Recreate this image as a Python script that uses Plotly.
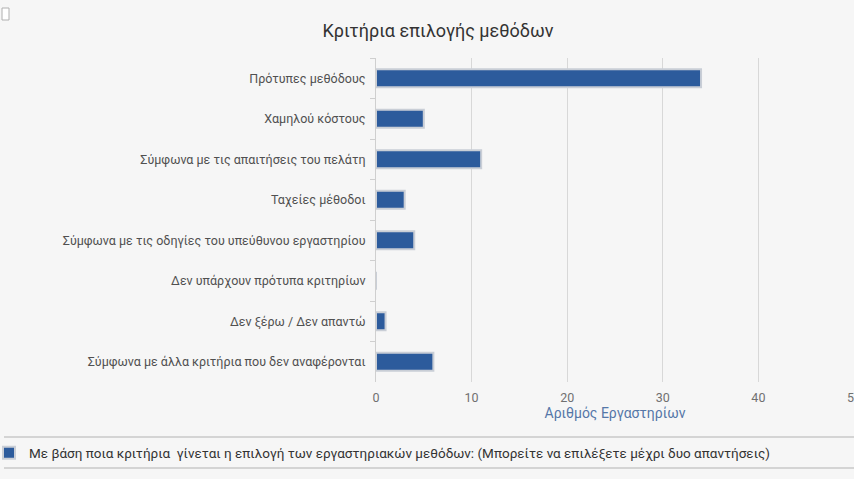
import plotly.graph_objects as go

# Survey data: selection criteria for laboratory methods
categories = [
    "Πρότυπες μεθόδους",
    "Χαμηλού κόστους",
    "Σύμφωνα με τις απαιτήσεις του πελάτη",
    "Ταχείες μέθοδοι",
    "Σύμφωνα με τις οδηγίες του υπεύθυνου εργαστηρίου",
    "Δεν υπάρχουν πρότυπα κριτηρίων",
    "Δεν ξέρω / Δεν απαντώ",
    "Σύμφωνα με άλλα κριτήρια που δεν αναφέρονται",
]
counts = [34, 5, 11, 3, 4, 0, 1, 6]
series_name = ("Με βάση ποια κριτήρια  γίνεται η επιλογή των εργαστηριακών μεθόδων: "
               "(Μπορείτε να επιλέξετε μέχρι δυο απαντήσεις)")
x_ticks = [0, 10, 20, 30, 40, 50]

W, H = 854, 479
ML, MR, MT, MB = 376, 0, 58, 97
BG = "#f6f6f6"
BAR = "#2c5b9c"
FONT = "Roboto, Liberation Sans, Arial, sans-serif"

fig = go.Figure()
fig.add_trace(go.Bar(
    x=counts,
    y=categories,
    orientation="h",
    name=series_name,
    marker=dict(color=BAR, line=dict(color="#c9ced6", width=2)),
    showlegend=True,
))

def px_x(p):
    return (p - ML) / (W - ML - MR)

def px_y(p):
    return (H - MB - p) / (H - MT - MB)

shapes = [
    # legend frame lines
    dict(type="line", xref="paper", yref="paper",
         x0=px_x(4), x1=px_x(W), y0=px_y(437), y1=px_y(437),
         line=dict(color="#c8c8c8", width=1.5)),
    dict(type="line", xref="paper", yref="paper",
         x0=px_x(4), x1=px_x(W), y0=px_y(468), y1=px_y(468),
         line=dict(color="#c8c8c8", width=1.5)),
    # small checkbox in the corner
    dict(type="rect", xref="paper", yref="paper",
         x0=px_x(2), x1=px_x(9), y0=px_y(8), y1=px_y(20),
         line=dict(color="#b0b0b0", width=1), fillcolor="#ffffff"),
]

fig.update_layout(
    width=W, height=H,
    margin=dict(l=ML, r=MR, t=MT, b=MB, autoexpand=False),
    paper_bgcolor=BG, plot_bgcolor=BG,
    font=dict(family=FONT, size=12, color="#444444"),
    title=dict(text="Κριτήρια επιλογής μεθόδων", x=438 / W,
               xanchor="center", y=1 - 31 / H, yanchor="middle",
               font=dict(family=FONT, size=18, color="#333333")),
    bargap=0.56,
    shapes=shapes,
    legend=dict(orientation="h", x=px_x(-11), xanchor="left", y=px_y(453), yanchor="middle",
                bgcolor="rgba(0,0,0,0)", font=dict(size=13.5, color="#333333"),
                itemwidth=30),
    xaxis=dict(range=[0, 50], tickvals=x_ticks, showgrid=True, gridcolor="#d8d8d8",
               gridwidth=1, zeroline=False, showline=False, ticks="",
               ticklabeloverflow="allow", ticklabelstandoff=6,
               tickfont=dict(size=12.5, color="#707070"),
               title=dict(text="Αριθμός Εργαστηρίων", standoff=4,
                          font=dict(size=14, color="#5577a8"))),
    yaxis=dict(autorange="reversed", showline=True, linecolor="#cfcfcf", linewidth=1,
               ticks="outside", tickson="boundaries", ticklen=5, tickcolor="#cfcfcf",
               ticklabelstandoff=7,
               tickfont=dict(size=12.5, color="#505050"), showgrid=False),
)

fig.write_html("out.html")
